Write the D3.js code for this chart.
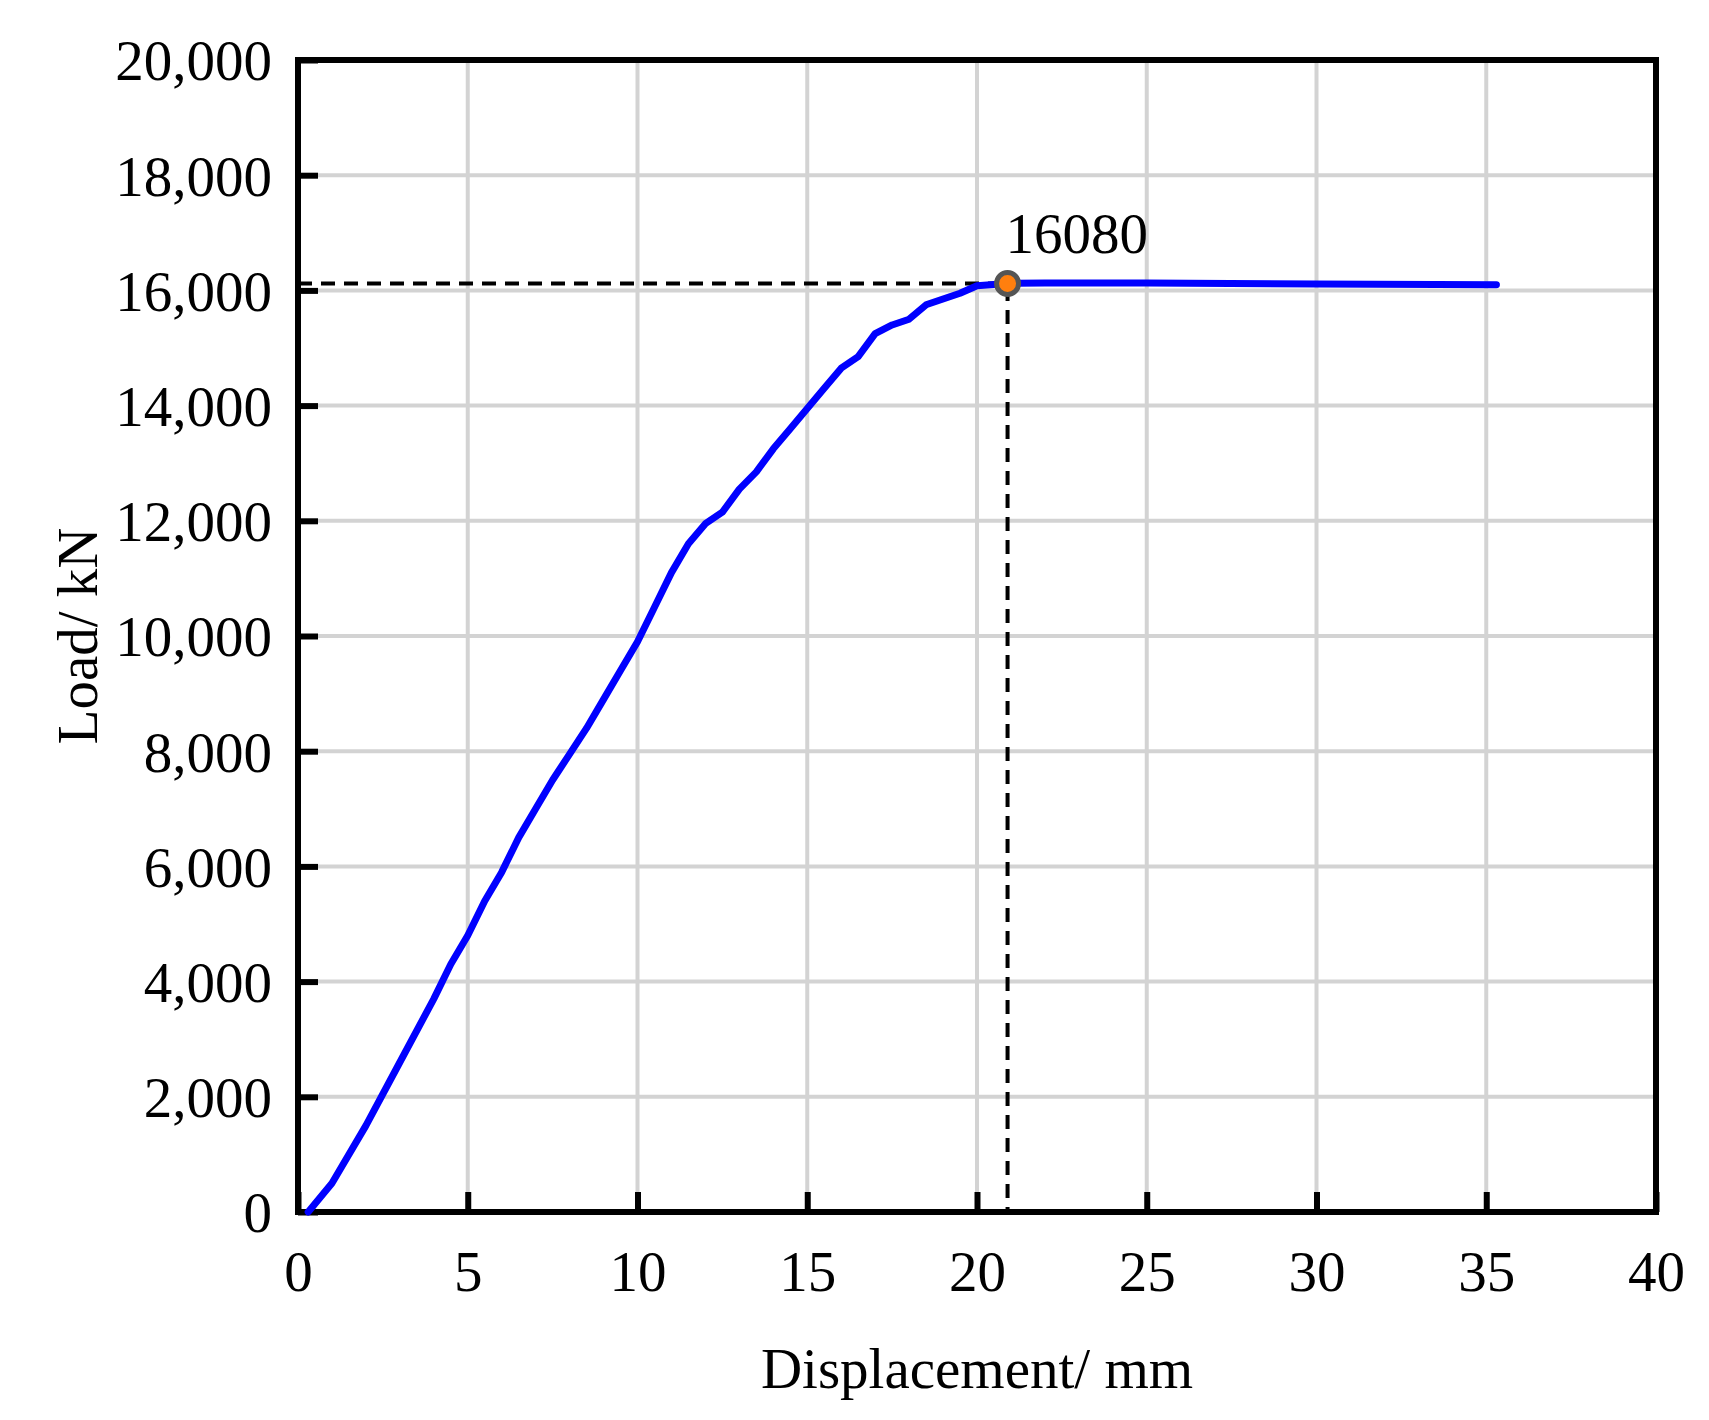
<!DOCTYPE html><html><head><meta charset="utf-8"><script src="https://cdn.jsdelivr.net/npm/d3@7"></script>
<style>body{margin:0;background:#fff}text{font-family:"Liberation Serif","Times New Roman",serif}</style></head><body><svg id="c" width="1709" height="1420"></svg><script>
const disp=[0.3,1,2,3,4,4.5,5,5.5,6,6.5,7,7.5,8,8.5,9,9.5,10,10.5,11,11.5,12,12.5,13,13.5,14,14.5,15,15.5,16,16.5,17,17.5,18,18.5,19,19.5,20,20.9,22,25,30,35.3];
const load=[0,500,1500,2600,3700,4300,4800,5400,5900,6500,7000,7500,7950,8400,8900,9400,9900,10500,11100,11600,11950,12150,12550,12850,13250,13600,13950,14300,14650,14850,15250,15400,15500,15750,15850,15950,16080,16120,16130,16130,16110,16100];
const peak={x:20.9,y:16120,label:"16080"};
const xTicks=[0,5,10,15,20,25,30,35,40];
const yTicks=[0,2000,4000,6000,8000,10000,12000,14000,16000,18000,20000];
const svg=d3.select("#c");
const L=298,R=1656,T=60,B=1212;
const x=d3.scaleLinear().domain([0,40]).range([L,R]);
const y=d3.scaleLinear().domain([0,20000]).range([B,T]);
const g=svg.append("g");
g.selectAll(".gx").data(xTicks).join("line").attr("x1",d=>x(d)).attr("x2",d=>x(d)).attr("y1",T).attr("y2",B).attr("stroke","#d3d3d3").attr("stroke-width",4);
g.selectAll(".gy").data(yTicks).join("line").attr("y1",d=>y(d)).attr("y2",d=>y(d)).attr("x1",L).attr("x2",R).attr("stroke","#d3d3d3").attr("stroke-width",4);
const fmt=d3.format(",");
const xa=svg.append("g").attr("transform",`translate(0,${B})`).call(d3.axisBottom(x).tickValues(xTicks).tickSizeInner(-20).tickSizeOuter(0).tickPadding(38));
const ya=svg.append("g").attr("transform",`translate(${L},0)`).call(d3.axisLeft(y).tickValues(yTicks).tickFormat(fmt).tickSizeInner(-20).tickSizeOuter(0).tickPadding(26));
[xa,ya].forEach(a=>{a.selectAll("line").attr("stroke","#000").attr("stroke-width",6);a.select(".domain").remove();a.selectAll("text").attr("font-size",57).attr("fill","#000").attr("font-family","Liberation Serif");});
ya.selectAll("text").attr("dy","0.35em");
xa.selectAll("text").attr("dy","0.72em");
svg.append("rect").attr("x",L).attr("y",T).attr("width",R-L).attr("height",B-T).attr("fill","none").attr("stroke","#000").attr("stroke-width",6);
svg.append("path").attr("d",`M${x(0)},${y(peak.y)}H${x(peak.x)}V${y(0)}`).attr("fill","none").attr("stroke","#000").attr("stroke-width",4).attr("stroke-dasharray","14,9");
const pts=disp.map((d,i)=>[d,load[i]]);
svg.append("path").attr("d",d3.line().x(d=>x(d[0])).y(d=>y(d[1]))(pts)).attr("fill","none").attr("stroke","#0000ff").attr("stroke-width",7).attr("stroke-linejoin","round").attr("stroke-linecap","round");
svg.append("circle").attr("cx",x(peak.x)).attr("cy",y(peak.y)).attr("r",11).attr("fill","#ff7f0e").attr("stroke","#555").attr("stroke-width",5);
svg.append("text").attr("x",x(peak.x)-2).attr("y",y(peak.y)-30).attr("font-size",57).text(peak.label);
svg.append("text").attr("x",(L+R)/2).attr("y",1388).attr("text-anchor","middle").attr("font-size",57).text("Displacement/ mm");
svg.append("text").attr("transform",`translate(97,${(T+B)/2}) rotate(-90)`).attr("text-anchor","middle").attr("font-size",57).text("Load/ kN");
</script></body></html>
